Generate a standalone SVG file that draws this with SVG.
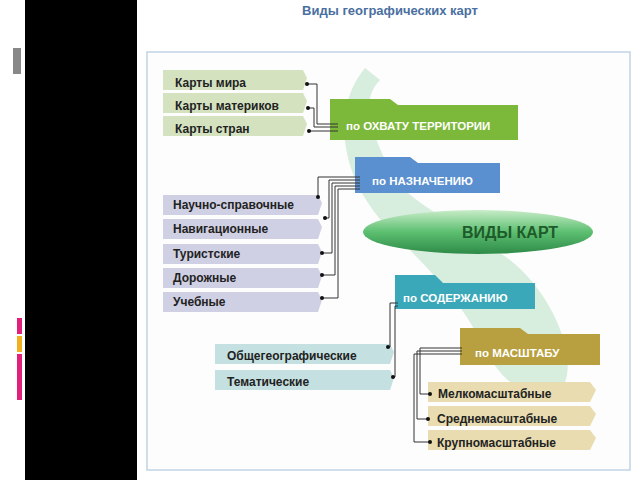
<svg xmlns="http://www.w3.org/2000/svg" width="640" height="480" viewBox="0 0 640 480">
<defs>
<style>
text{font-family:"Liberation Sans",Arial,sans-serif;font-weight:bold}
.it{font-size:12px;fill:#222}
.hd{font-size:11.5px;fill:#fff}
.ln{fill:none;stroke:#333;stroke-width:1}
</style>
<linearGradient id="ell" x1="0" y1="0" x2="0" y2="1"><stop offset="0" stop-color="#c8ecc8"/><stop offset="0.5" stop-color="#5cbf70"/><stop offset="1" stop-color="#2e8a48"/></linearGradient>
</defs>
<rect width="640" height="480" fill="#fff"/>
<rect x="25" y="0" width="112" height="480" fill="#000"/>
<rect x="13" y="48" width="8" height="26" fill="#888"/>
<rect x="17" y="318" width="5" height="16" fill="#e0207a"/>
<rect x="17" y="336" width="5" height="16" fill="#f0b020"/>
<rect x="17" y="354" width="5" height="46" fill="#e0207a"/>
<text x="390" y="15" text-anchor="middle" style="font-size:13px;fill:#4a6fa0">Виды географических карт</text>
<rect x="147" y="52" width="483" height="418" fill="#fdfdfd" stroke="#c0d4e4" stroke-width="1.5"/>
<path d="M365 68 C330 110 340 180 390 230 C430 270 460 300 480 340 C500 380 520 400 560 390 C580 370 560 300 510 260 C470 230 400 200 390 170 C370 130 360 100 380 80 Z" fill="#a8dab8" opacity="0.45"/>
<g id="c-territory">
<path d="M163 70h140l4 8-4 12H163z" fill="#d4e2c0"/>
<path d="M163 93h140l4 8-4 12H163z" fill="#d4e2c0"/>
<path d="M163 116h140l4 8-4 12H163z" fill="#d4e2c0"/>
<text class="it" x="175" y="87">Карты мира</text>
<text class="it" x="175" y="110">Карты материков</text>
<text class="it" x="175" y="133">Карты стран</text>
</g>
<g id="h-territory"><path d="M330 107v-8h60l8 6h120v35H330z" fill="#7cb83a"/><text class="hd" x="346" y="130">по ОХВАТУ ТЕРРИТОРИИ</text></g>
<g id="c-purpose">
<path d="M163 195h155l4 8-4 12H163z" fill="#d0d0e4"/>
<path d="M163 219h155l4 8-4 12H163z" fill="#d0d0e4"/>
<path d="M163 244h155l4 8-4 12H163z" fill="#d0d0e4"/>
<path d="M163 268h155l4 8-4 12H163z" fill="#d0d0e4"/>
<path d="M163 292h155l4 8-4 12H163z" fill="#d0d0e4"/>
<text class="it" x="173" y="209">Научно-справочные</text>
<text class="it" x="173" y="233">Навигационные</text>
<text class="it" x="173" y="258">Туристские</text>
<text class="it" x="173" y="282">Дорожные</text>
<text class="it" x="173" y="306">Учебные</text>
</g>
<g id="h-purpose"><path d="M355 165v-8h55l8 6h82v30H355z" fill="#5a8fd0"/><text class="hd" x="372" y="185">по НАЗНАЧЕНИЮ</text></g>
<g id="center"><ellipse cx="478" cy="232" rx="115" ry="22" fill="url(#ell)"/><text x="462" y="238" style="font-size:16px;fill:#1f5a2a">ВИДЫ КАРТ</text></g>
<g id="h-content"><path d="M395 285v-10h40l8 8h92v26H395z" fill="#3aa8b8"/><text class="hd" x="403" y="302">по СОДЕРЖАНИЮ</text></g>
<g id="c-content">
<path d="M215 344h175l4 8-4 12H215z" fill="#c4e0e0"/>
<path d="M215 370h175l4 8-4 12H215z" fill="#c4e0e0"/>
<text class="it" x="227" y="360">Общегеографические</text>
<text class="it" x="227" y="386">Тематические</text>
</g>
<g id="h-scale"><path d="M460 340v-12h60l8 6h72v31H460z" fill="#b8a040"/><text class="hd" x="475" y="357">по МАСШТАБУ</text></g>
<g id="c-scale">
<path d="M428 382h162l6 8-6 12H428z" fill="#e8dcb0"/>
<path d="M428 406h162l6 8-6 12H428z" fill="#e8dcb0"/>
<path d="M428 430h162l6 8-6 12H428z" fill="#e8dcb0"/>
<text class="it" x="438" y="398">Мелкомасштабные</text>
<text class="it" x="437" y="423">Среднемасштабные</text>
<text class="it" x="437" y="447">Крупномасштабные</text>
</g>
<g id="connectors">
<path class="ln" d="M307 84H317V124H338M308 108H314V127H338M309 131H338"/>
<path class="ln" d="M318 197V177H360M325 218H329V180H360M322 253H332V183H360M322 275H335V186H360M322 298H338V189H360"/>
<path class="ln" d="M388 347H390V303H398M393 377H395V306H398"/>
<path class="ln" d="M430 394H420V348H462M428 419H417V351H462M430 442H414V354H462"/>
<g fill="#111"><circle cx="307" cy="84" r="2"/><circle cx="308" cy="108" r="2"/><circle cx="309" cy="131" r="2"/>
<circle cx="318" cy="197" r="2"/><circle cx="325" cy="218" r="2"/><circle cx="322" cy="253" r="2"/><circle cx="322" cy="275" r="2"/><circle cx="322" cy="298" r="2"/>
<circle cx="388" cy="347" r="2"/><circle cx="393" cy="377" r="2"/>
<circle cx="430" cy="394" r="2"/><circle cx="428" cy="419" r="2"/><circle cx="430" cy="442" r="2"/></g>
</g>
</svg>
